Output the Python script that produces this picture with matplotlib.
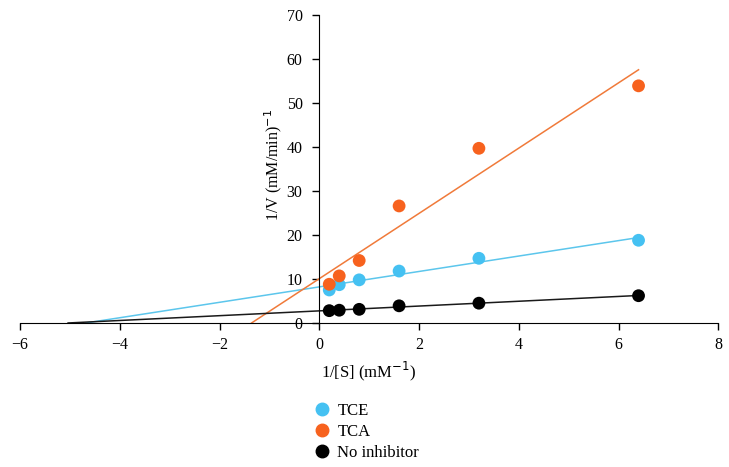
import numpy as np
import matplotlib.pyplot as plt
from matplotlib.lines import Line2D

plt.rcParams['font.family'] = ['Liberation Serif', 'DejaVu Serif']

# 1/[S] values (mM^-1)
inv_s = [0.2, 0.4, 0.8, 1.6, 3.2, 6.4]

# 1/V values (mM/min)^-1
tce = [7.5, 8.7, 9.8, 11.8, 14.7, 18.8]
tca = [8.8, 10.7, 14.2, 26.6, 39.7, 53.9]
no_inh = [2.8, 2.9, 3.1, 3.9, 4.5, 6.2]

series_names = ['TCE', 'TCA', 'No inhibitor']
point_colors = ['#45C1F2', '#F7621E', '#000000']
line_colors = ['#5CC6EC', '#F07A3A', '#1a1a1a']

fig = plt.figure(figsize=(7.29, 4.67), dpi=100)
ax = fig.add_axes([0.0274, 0.3084, 0.958, 0.6595])

x = np.array(inv_s)
for ys, pc, lc in zip([tce, tca, no_inh], point_colors, line_colors):
    # linear trendline, extended back to the x-axis
    m, b = np.polyfit(x, ys, 1)
    xx = np.array([-b / m, x.max()])
    ax.plot(xx, m * xx + b, color=lc, lw=1.1, zorder=2)
    ax.scatter(x, ys, s=85, color=pc, zorder=3, edgecolors='none')

ax.set_xlim(-6, 8)
ax.set_ylim(0, 70)
ax.set_xticks(range(-6, 9, 2))
ax.set_yticks(range(0, 71, 10))
ax.set_xticklabels(['\u22126', '\u22124', '\u22122', '0', '2', '4', '6', '8'])

ax.spines['top'].set_visible(False)
ax.spines['right'].set_visible(False)
ax.spines['left'].set_position(('data', 0))
ax.tick_params(axis='both', direction='out', length=5, width=1, labelsize=11.5)
ax.tick_params(axis='x', pad=5)
ax.tick_params(axis='y', pad=7)

ax.set_xlabel('1/[S] (mM$^{-1}$)', fontsize=12, labelpad=5)
ax.text(-0.93, 36, '1/V (mM/min)$^{-1}$', rotation=90, ha='center', va='center', fontsize=11.5)

handles = [Line2D([], [], marker='o', ls='none', color=c, markersize=9) for c in point_colors]
fig.legend(handles, series_names, loc='upper left', bbox_to_anchor=(0.417, 0.155),
           frameon=False, fontsize=12, handletextpad=0.3, labelspacing=0.3,
           handlelength=1.2, borderpad=0)

fig.savefig('out.png', dpi=100)
